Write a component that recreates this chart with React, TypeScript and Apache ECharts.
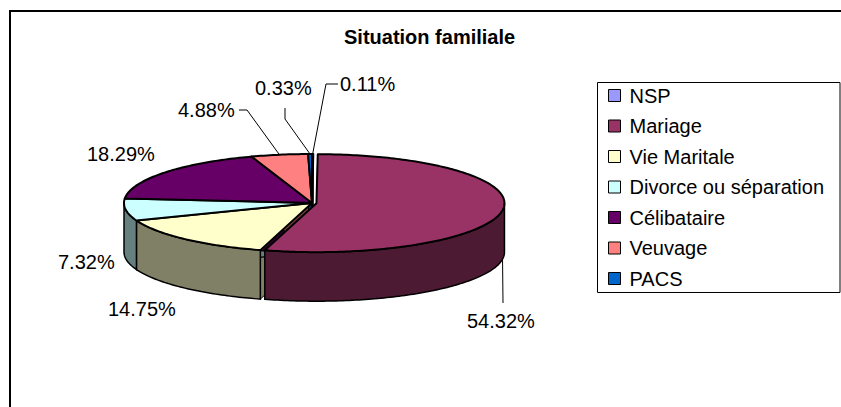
import React, { useEffect, useRef } from 'react';
import * as echarts from 'echarts';

// ---------- data ----------
const categories: string[] = ['NSP', 'Mariage', 'Vie Maritale', 'Divorce ou séparation', 'Célibataire', 'Veuvage', 'PACS'];
const percentages: number[] = [0.11, 54.32, 14.75, 7.32, 18.29, 4.88, 0.33];
const chartTitle = 'Situation familiale';

// ---------- styles / layout ----------
const topColors: string[] = ['#9999FF', '#993366', '#FFFFCC', '#CCFFFF', '#660066', '#FF8080', '#0066CC'];
const explodePx: number[] = [0, 4.5, 0, 0, 0, 0, 0];
const PIE = { cx: 312, cy: 203, rx: 188, ry: 49, depth: 49 };
const FONT = '"Liberation Sans", Arial, Helvetica, sans-serif';

// label text anchor (left, middle) and leader bend points (from label side); end point computed on the slice rim
const LABEL_LAYOUT: { x: number; y: number; leader: number[][] | null; toWall?: boolean }[] = [
  { x: 340, y: 84, leader: [[338, 84], [326, 84]] },
  { x: 467, y: 321, leader: [[503, 303]], toWall: true },
  { x: 108, y: 309, leader: null },
  { x: 58, y: 262, leader: null },
  { x: 87, y: 154, leader: null },
  { x: 178, y: 110, leader: [[239, 110], [247, 110]] },
  { x: 255, y: 88, leader: [[285, 108], [285, 119]] },
];

function darken(hex: string, f: number): string {
  const n = parseInt(hex.slice(1), 16);
  const r = Math.round(((n >> 16) & 255) * f);
  const g = Math.round(((n >> 8) & 255) * f);
  const b = Math.round((n & 255) * f);
  return 'rgb(' + r + ',' + g + ',' + b + ')';
}

export default function App() {
  const ref = useRef<HTMLDivElement>(null);

  useEffect(() => {
    if (!ref.current) return;
    const chart = echarts.init(ref.current, undefined, { renderer: 'svg' });
    const total = percentages.reduce((a, b) => a + b, 0);

    const pt = (a: number, dx: number, dy: number, down: number) => [
      PIE.cx + dx + PIE.rx * Math.sin(a),
      PIE.cy + dy - PIE.ry * Math.cos(a) + down,
    ];
    const arc = (a0: number, a1: number, dx: number, dy: number, down: number) => {
      const n = Math.max(2, Math.ceil(Math.abs(a1 - a0) / (Math.PI / 180)));
      const pts: number[][] = [];
      for (let k = 0; k <= n; k++) pts.push(pt(a0 + ((a1 - a0) * k) / n, dx, dy, down));
      return pts;
    };

    const renderItem = (params: any, api: any) => {
      const i = params.dataIndex;
      const v = api.value(0);
      let before = 0;
      for (let k = 0; k < i; k++) before += percentages[k];
      const a0 = (before / total) * Math.PI * 2;
      const a1 = a0 + (v / total) * Math.PI * 2;
      const mid = (a0 + a1) / 2;
      const ex = explodePx[i];
      const dx = ex * Math.sin(mid);
      const dy = -ex * Math.cos(mid) * (PIE.ry / PIE.rx);
      const top = topColors[i];
      const side = darken(top, 0.5);
      const cxp = PIE.cx + dx;
      const cyp = PIE.cy + dy;
      const children: any[] = [];

      // radial cut faces
      [a0, a1].forEach((a) => {
        const r = pt(a, dx, dy, 0);
        children.push({
          type: 'polygon',
          z2: 0,
          shape: { points: [[cxp, cyp], r, [r[0], r[1] + PIE.depth], [cxp, cyp + PIE.depth]] },
          style: { fill: side, stroke: '#000', lineWidth: 1 },
        });
      });

      // outer wall (front half only)
      const b0 = Math.max(a0, Math.PI / 2);
      const b1 = Math.min(a1, (Math.PI * 3) / 2);
      if (b1 > b0) {
        const upper = arc(b0, b1, dx, dy, 0);
        const lower = arc(b1, b0, dx, dy, PIE.depth);
        children.push({
          type: 'polygon',
          z2: 1,
          shape: { points: upper.concat(lower) },
          style: { fill: side, stroke: '#000', lineWidth: 1.5 },
        });
      }

      // top face
      children.push({
        type: 'polygon',
        z2: 2,
        shape: { points: [[cxp, cyp]].concat(arc(a0, a1, dx, dy, 0)) },
        style: { fill: top, stroke: '#000', lineWidth: 2, lineJoin: 'round' },
      });

      // label
      const L = LABEL_LAYOUT[i];
      children.push({
        type: 'text',
        z2: 5,
        x: L.x,
        y: L.y,
        style: {
          text: v.toFixed(2) + '%',
          fontSize: 20,
          fontFamily: FONT,
          fill: '#000',
          align: 'left',
          verticalAlign: 'middle',
        },
      });
      if (L.leader) {
        const rim = pt(mid, dx, dy, L.toWall ? PIE.depth : 0);
        children.push({
          type: 'polyline',
          z2: 5,
          shape: { points: L.leader.concat([rim]) },
          style: { stroke: '#000', lineWidth: 1, fill: null },
        });
      }

      return { type: 'group', children };
    };

    chart.setOption({
      animation: false,
      backgroundColor: '#ffffff',
      title: {
        text: chartTitle,
        left: 344,
        top: 27,
        padding: 0,
        textStyle: { fontSize: 20, fontWeight: 'bold', fontFamily: FONT, color: '#000', lineHeight: 20 },
      },
      legend: {
        orient: 'vertical',
        left: 608,
        top: 85.5,
        padding: 0,
        itemWidth: 12,
        itemHeight: 12,
        itemGap: 10.5,
        icon: 'rect',
        selectedMode: false,
        data: categories,
        textStyle: { fontSize: 20, fontFamily: FONT, color: '#000', lineHeight: 20, padding: [0, 0, 0, 4] },
        itemStyle: { borderColor: '#000', borderWidth: 1 },
      },
      graphic: [
        {
          type: 'rect',
          shape: { x: 10, y: 11, width: 1000, height: 1000 },
          style: { fill: 'none', stroke: '#000', lineWidth: 2 },
          silent: true,
        },
        {
          type: 'rect',
          shape: { x: 597.5, y: 82.5, width: 242.5, height: 210 },
          style: { fill: 'none', stroke: '#000', lineWidth: 1 },
          silent: true,
        },
      ],
      series: [
        {
          type: 'custom',
          name: 'pie3d',
          coordinateSystem: 'none',
          silent: true,
          renderItem,
          data: categories.map((c, i) => ({ name: c, value: [percentages[i]] })),
        },
        {
          // provides the legend entries (drawn off-canvas)
          type: 'pie',
          name: 'legend',
          center: [-2000, -2000],
          radius: 1,
          silent: true,
          label: { show: false },
          labelLine: { show: false },
          data: categories.map((c, i) => ({
            name: c,
            value: percentages[i],
            itemStyle: { color: topColors[i], borderColor: '#000', borderWidth: 1 },
          })),
        },
      ],
    });

    return () => chart.dispose();
  }, []);

  return (
    <div
      ref={ref}
      style={{ position: 'fixed', left: 0, top: 0, width: 841, height: 407, background: '#fff' }}
    />
  );
}
